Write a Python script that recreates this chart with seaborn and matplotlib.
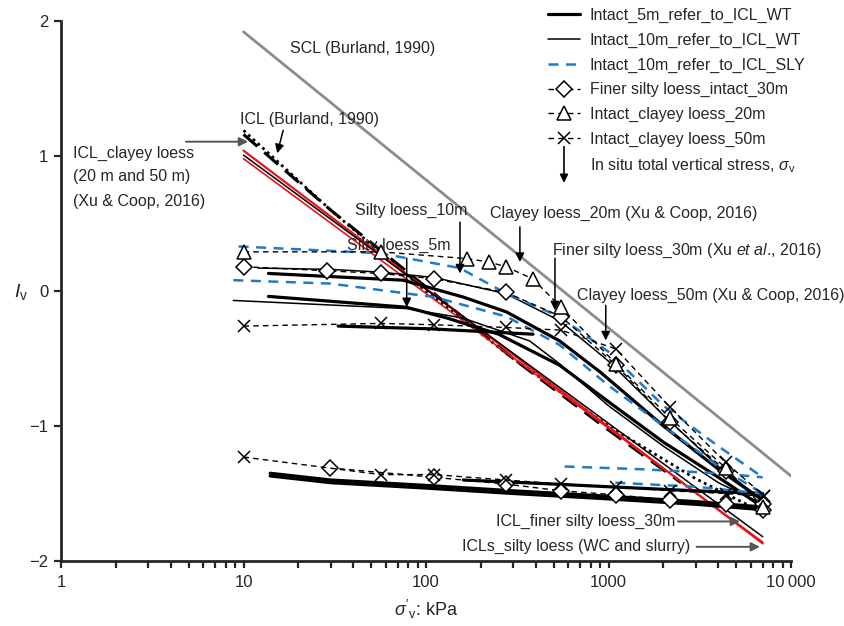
import numpy as np
import pandas as pd
import matplotlib
matplotlib.use("Agg")
import matplotlib.pyplot as plt
import seaborn as sns
from matplotlib.lines import Line2D
from matplotlib.patches import FancyArrowPatch
from matplotlib.legend_handler import HandlerBase

sns.set_style("ticks")
plt.rcParams['font.family'] = ['Liberation Sans', 'DejaVu Sans']
plt.rcParams['mathtext.fontset'] = 'custom'
plt.rcParams['mathtext.rm'] = 'Liberation Sans'
plt.rcParams['mathtext.it'] = 'Liberation Sans:italic'

# ---------------- data ----------------
scl_s = [10, 10000]
scl_iv = [1.92, -1.37]

icl_burland_s = [10, 30, 100, 300, 1000, 3000, 7000]
icl_burland_iv = [1.19, 0.60, 0.00, -0.50, -1.00, -1.39, -1.64]

icl_clayey_s = [10, 30, 100, 300, 1000, 2500]
icl_clayey_iv = [1.16, 0.60, 0.03, -0.50, -1.03, -1.42]

icl_red1_s = [10, 7000]
icl_red1_iv = [1.04, -1.87]
icl_red2_s = [10, 7000]
icl_red2_iv = [0.98, -1.86]
icl_finer_s = [10, 7000]
icl_finer_iv = [1.007, -1.82]

# Intact 5m (thick black)
t5a_s = [13.7, 75, 160, 276, 540, 900, 2000, 4000, 7000]
t5a_iv = [0.13, 0.08, -0.045, -0.155, -0.37, -0.60, -1.00, -1.32, -1.55]
t5b_s = [13.7, 78, 130, 250, 540, 1000, 2000, 4000, 7000]
t5b_iv = [-0.04, -0.12, -0.20, -0.32, -0.55, -0.82, -1.12, -1.38, -1.60]
t5c_s = [33, 105, 386]
t5c_iv = [-0.26, -0.28, -0.32]
t5d_s = [14, 30, 100, 300, 1000, 3000, 7000]
t5d_iv = [-1.35, -1.40, -1.44, -1.48, -1.52, -1.56, -1.60]
t5e_s = [14, 30, 100, 300, 1000, 3000, 7000]
t5e_iv = [-1.37, -1.42, -1.46, -1.50, -1.54, -1.58, -1.62]
t5f_s = [160, 500, 1000, 3000, 7000]
t5f_iv = [-1.40, -1.43, -1.45, -1.48, -1.50]

# Intact 10m WT (thin black)
t10a_s = [12, 30, 56, 111, 274, 540, 1000, 2000, 4000, 7000]
t10a_iv = [0.17, 0.16, 0.14, 0.10, -0.02, -0.22, -0.52, -0.92, -1.30, -1.55]
t10b_s = [8.8, 78, 159, 370, 540, 1000, 2000, 4000, 7000]
t10b_iv = [-0.07, -0.13, -0.20, -0.37, -0.54, -0.85, -1.15, -1.42, -1.58]

# Intact 10m SLY (blue dashed)
sly_a_s = [9.4, 56, 153, 277, 540, 1000, 2000, 4000, 7000]
sly_a_iv = [0.33, 0.28, 0.17, -0.02, -0.19, -0.45, -0.85, -1.15, -1.38]
sly_b_s = [8.8, 30, 111, 277, 540, 1000, 2000, 4000, 7000]
sly_b_iv = [0.08, 0.055, -0.045, -0.19, -0.40, -0.70, -1.00, -1.30, -1.50]
sly_c_s = [575, 1500, 4000, 7000]
sly_c_iv = [-1.30, -1.32, -1.35, -1.38]
sly_d_s = [1090, 3000, 7000]
sly_d_iv = [-1.42, -1.45, -1.50]

# Finer silty loess intact 30m (diamonds)
dia_up_s = [10, 28.6, 56.5, 111, 274, 550, 1100, 2170, 4380, 7030]
dia_up_iv = [0.18, 0.15, 0.13, 0.09, -0.01, -0.19, -0.55, -0.97, -1.33, -1.58]
dia_lo_s = [29.6, 111, 274, 550, 1100, 2170, 4380, 7030]
dia_lo_iv = [-1.31, -1.38, -1.43, -1.48, -1.51, -1.55, -1.58, -1.62]

# Intact clayey loess 20m (triangles)
tri_s = [10, 56.7, 167, 221, 274, 384, 550, 1100, 2170, 4380, 7030]
tri_iv = [0.29, 0.29, 0.24, 0.215, 0.18, 0.09, -0.12, -0.54, -0.94, -1.31, -1.60]

# Intact clayey loess 50m (crosses)
crs_up_s = [10, 56.5, 111, 274, 550, 1100, 2170, 4380, 7150]
crs_up_iv = [-0.26, -0.24, -0.25, -0.27, -0.29, -0.43, -0.86, -1.27, -1.52]
crs_lo_s = [10, 56.5, 111, 274, 550, 1100, 2170, 4380, 7150]
crs_lo_iv = [-1.23, -1.36, -1.36, -1.40, -1.43, -1.45, -1.48, -1.50, -1.52]

xticks = [1, 10, 100, 1000, 10000]
xticklabels = ["1", "10", "100", "1000", "10\u2009000"]
yticks = [-2, -1, 0, 1, 2]
yticklabels = ["\u22122", "\u22121", "0", "1", "2"]

BLUE = "#1f7ac8"

fig = plt.figure(figsize=(8.44, 6.26), dpi=100)
ax = fig.add_axes([61/844, 1-561/626, (791-61)/844, (561-21)/626])


def draw(s, iv, **kw):
    df = pd.DataFrame({"s": s, "iv": iv})
    sns.lineplot(data=df, x="s", y="iv", ax=ax, sort=False, estimator=None,
                 legend=False, **kw)


draw(scl_s, scl_iv, color="#8c8c8c", lw=2.0)
draw(icl_burland_s, icl_burland_iv, color="k", lw=2.0, linestyle=(0, (1, 1.3)))
draw(icl_clayey_s, icl_clayey_iv, color="k", lw=2.2, linestyle=(0, (6, 3)))
draw(icl_red1_s, icl_red1_iv, color="#e8141a", lw=1.6)
draw(icl_red2_s, icl_red2_iv, color="#e8141a", lw=1.2)
draw(icl_finer_s, icl_finer_iv, color="k", lw=1.1)

for s, iv in [(t5a_s, t5a_iv), (t5b_s, t5b_iv), (t5c_s, t5c_iv),
              (t5d_s, t5d_iv), (t5e_s, t5e_iv), (t5f_s, t5f_iv)]:
    draw(s, iv, color="k", lw=2.3)
for s, iv in [(t10a_s, t10a_iv), (t10b_s, t10b_iv)]:
    draw(s, iv, color="k", lw=1.1)
for s, iv in [(sly_a_s, sly_a_iv), (sly_b_s, sly_b_iv), (sly_c_s, sly_c_iv), (sly_d_s, sly_d_iv)]:
    draw(s, iv, color=BLUE, lw=1.8, linestyle=(0, (4, 3)))

mk = dict(color="k", lw=1.0, linestyle=(0, (4, 3)), markerfacecolor="white",
          markeredgecolor="k", markeredgewidth=1.1)
for s, iv in [(dia_up_s, dia_up_iv), (dia_lo_s, dia_lo_iv)]:
    draw(s, iv, marker="D", markersize=8, **mk)
draw(tri_s, tri_iv, marker="^", markersize=10, **mk)
for s, iv in [(crs_up_s, crs_up_iv), (crs_lo_s, crs_lo_iv)]:
    draw(s, iv, marker="x", markersize=9, **mk)

ax.set_xscale("log")
ax.set_xlim(1, 10000)
ax.set_ylim(-2, 2)
ax.set_xticks(xticks)
ax.set_xticklabels(xticklabels)
ax.set_yticks(yticks)
ax.set_yticklabels(yticklabels)
ax.xaxis.set_minor_locator(matplotlib.ticker.LogLocator(base=10, subs=np.arange(2, 10)))
ax.xaxis.set_minor_formatter(matplotlib.ticker.NullFormatter())
ax.tick_params(axis="both", which="major", labelsize=12, length=5, width=1.6, direction="out")
ax.tick_params(axis="x", which="major", pad=5)
ax.tick_params(axis="x", which="minor", length=5, width=1.6, direction="out")
ax.tick_params(axis="y", pad=4)
sns.despine(ax=ax)
for sp in ("left", "bottom"):
    ax.spines[sp].set_linewidth(2.0)
ax.set_xlabel(r"$\sigma'_\mathrm{v}$: kPa", fontsize=13, labelpad=6)
ax.set_ylabel(r"$I_\mathrm{v}$", fontsize=14, rotation=0, labelpad=14)
ax.yaxis.set_label_coords(-0.055, 0.48)

# ---------------- annotations ----------------
FS = 11.5
arr = dict(arrowstyle="-|>", color="k", lw=1.1, mutation_scale=13, shrinkA=0, shrinkB=0)
garr = dict(arrowstyle="-|>", color="#555555", lw=1.4, mutation_scale=13, shrinkA=0, shrinkB=0)

ax.text(18, 1.80, "SCL (Burland, 1990)", fontsize=FS, va="center")
ax.text(9.57, 1.27, "ICL (Burland, 1990)", fontsize=FS, va="center")
ax.annotate("", xy=(15.3, 1.02), xytext=(16.5, 1.19), arrowprops=arr)
ax.text(1.16, 1.02, "ICL_clayey loess", fontsize=FS, va="center")
ax.text(1.16, 0.845, "(20 m and 50 m)", fontsize=FS, va="center")
ax.text(1.16, 0.66, "(Xu & Coop, 2016)", fontsize=FS, va="center")
ax.annotate("", xy=(10.6, 1.106), xytext=(4.84, 1.106), arrowprops=garr)

ax.text(40.8, 0.60, "Silty loess_10m", fontsize=FS, va="center")
ax.annotate("", xy=(153.5, 0.13), xytext=(153.5, 0.51), arrowprops=arr)
ax.text(36.9, 0.34, "Silty loess_5m", fontsize=FS, va="center")
ax.annotate("", xy=(78.4, -0.12), xytext=(78.4, 0.243), arrowprops=arr)
ax.text(224, 0.577, "Clayey loess_20m (Xu & Coop, 2016)", fontsize=FS, va="center")
ax.annotate("", xy=(327, 0.215), xytext=(327, 0.475), arrowprops=arr)
ax.text(488, 0.297, "Finer silty loess_30m (Xu $\\it{et\\ al}$., 2016)", fontsize=FS, va="center")
ax.annotate("", xy=(509, -0.143), xytext=(509, 0.243), arrowprops=arr)
ax.text(670, -0.032, "Clayey loess_50m (Xu & Coop, 2016)", fontsize=FS, va="center")
ax.annotate("", xy=(966, -0.366), xytext=(966, -0.106), arrowprops=arr)

ax.text(2313, -1.707, "ICL_finer silty loess_30m", fontsize=FS, va="center", ha="right")
ax.annotate("", xy=(5256, -1.707), xytext=(2404, -1.707), arrowprops=garr)
ax.text(2797, -1.895, "ICLs_silty loess (WC and slurry)", fontsize=FS, va="center", ha="right")
ax.annotate("", xy=(6761, -1.895), xytext=(3041, -1.895), arrowprops=garr)


# ---------------- legend ----------------
class ArrowHandler(HandlerBase):
    def create_artists(self, legend, orig_handle, xdescent, ydescent, width,
                       height, fontsize, trans):
        cx = -xdescent + width / 2
        a = FancyArrowPatch((cx, height + 9), (cx, -9), arrowstyle="-|>",
                            mutation_scale=12, color="k", lw=1.2, transform=trans,
                            shrinkA=0, shrinkB=0)
        return [a]


class ArrowProxy:
    pass


handles = [
    Line2D([], [], color="k", lw=2.3),
    Line2D([], [], color="k", lw=1.1),
    Line2D([], [], color=BLUE, lw=1.8, linestyle=(0, (4, 3))),
    Line2D([], [], marker="D", markersize=8, **mk),
    Line2D([], [], marker="^", markersize=10, **mk),
    Line2D([], [], marker="x", markersize=9, **mk),
    ArrowProxy(),
]
labels = [
    "Intact_5m_refer_to_ICL_WT",
    "Intact_10m_refer_to_ICL_WT",
    "Intact_10m_refer_to_ICL_SLY",
    "Finer silty loess_intact_30m",
    "Intact_clayey loess_20m",
    "Intact_clayey loess_50m",
    r"In situ total vertical stress, $\sigma_\mathrm{v}$",
]
leg = fig.legend(handles, labels, loc="upper left",
                 bbox_to_anchor=(548/844, 1 - 8/626), bbox_transform=fig.transFigure,
                 frameon=False, fontsize=FS, handlelength=2.0, handletextpad=0.6,
                 labelspacing=0.6, borderpad=0, borderaxespad=0, numpoints=1,
                 handler_map={ArrowProxy: ArrowHandler()})

fig.savefig("out.png", dpi=100)
